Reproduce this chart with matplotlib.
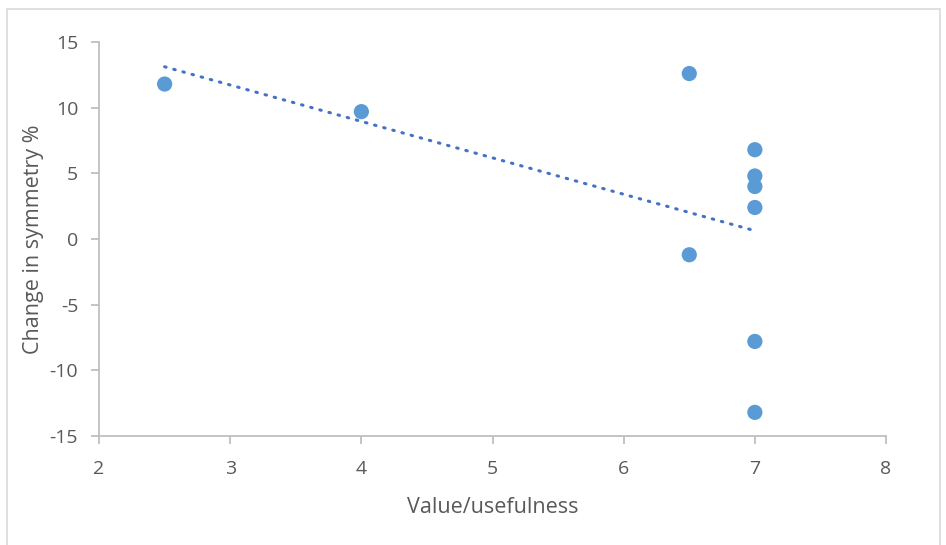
import matplotlib.pyplot as plt
import numpy as np
from matplotlib.patches import Rectangle

# usefulness score vs. change in symmetry
usefulness = [2.5, 4.0, 6.5, 6.5, 7.0, 7.0, 7.0, 7.0, 7.0, 7.0]
sym_change = [11.8, 9.7, 12.6, -1.2, 6.8, 4.8, 4.0, 2.4, -7.8, -13.2]

plt.rcParams['font.family'] = ['Open Sans', 'DejaVu Sans']
plt.rcParams['axes.unicode_minus'] = False
txt = '#595959'
grid = '#BFBFBF'

fig = plt.figure(figsize=(9.46, 5.45), dpi=100)
ax = fig.add_axes([0.1047, 0.2, 0.8319, 0.7229])

ax.scatter(usefulness, sym_change, s=120, color='#5B9BD5', edgecolors='none', zorder=3)

# linear trend over the data range
k, b = np.polyfit(usefulness, sym_change, 1)
xt = np.array([min(usefulness), max(usefulness)])
ax.plot(xt, k * xt + b, color='#4472C4', lw=2.2, linestyle=(0, (0.5, 2.6)),
        dash_capstyle='round', zorder=2)

ax.set_xlim(2, 8)
ax.set_ylim(-15, 15)
ax.set_xticks(range(2, 9))
ax.set_yticks(range(-15, 16, 5))

for side in ['top', 'right']:
    ax.spines[side].set_visible(False)
for side in ['left', 'bottom']:
    ax.spines[side].set_color(grid)
    ax.spines[side].set_linewidth(1.3)
ax.tick_params(axis='both', colors=grid, length=6, width=1.3, labelsize=14,
               labelcolor=txt)
ax.tick_params(axis='x', pad=11)
ax.tick_params(axis='y', pad=9)

ax.set_xlabel('Value/usefulness', fontsize=15.5, color=txt, labelpad=14)
ax.set_ylabel('Change in symmetry %', fontsize=15.5, color=txt, labelpad=4)

# light frame around the chart area
fig.patches.append(Rectangle((7 / 946, -0.01), 933 / 946, 1 - 9 / 545 + 0.01,
                             transform=fig.transFigure, fill=False,
                             edgecolor='#D9D9D9', lw=1.2))

fig.savefig('out.png', dpi=100)
